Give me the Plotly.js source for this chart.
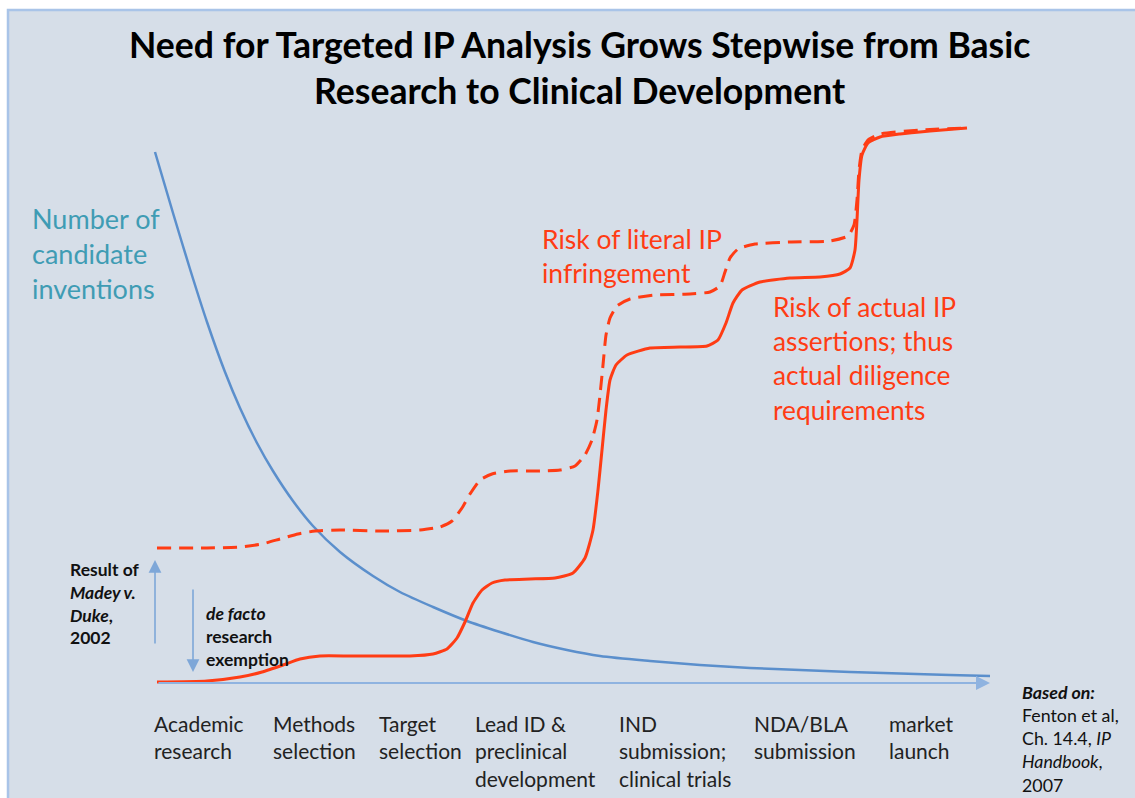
<!DOCTYPE html>
<html>
<head>
<meta charset="utf-8">
<script src="https://cdn.plot.ly/plotly-3.0.1.min.js"></script>
<style>html,body{margin:0;padding:0;background:#fff;}#chart{width:1135px;height:798px;}</style>
</head>
<body>
<div id="chart"></div>
<script>
// Stage positions along the development axis and their labels
const stagePos = [153, 272, 378, 474, 618, 753, 888];
const stageLabels = ["Academic<br>research", "Methods<br>selection", "Target<br>selection",
  "Lead ID &amp;<br>preclinical<br>development", "IND<br>submission;<br>clinical trials",
  "NDA/BLA<br>submission", "market<br>launch"];

// Number of candidate inventions (blue)
const candX = [155,173,190,207,225,240,257,273,293,313,340,373,400,433,467,500,533,567,600,650,700,750,800,850,900,950,990];
const candY = [531,470,414,361,311,275,240,212,182,157,131,107,91,76,62,51,41,33,27,22,18,15,13,11,9.5,8,7];

// Risk of actual IP assertions (solid red)
const actualX = [157,207,240,262,283,300,320,350,380,410,433,447,457,465,473,482,492,505,530,555,573,585,593,598,602,606,610,616,627,650,680,707,718,726,733,742,760,790,820,840,850,855,857,859,862,868,880,900,930,967];
const actualY = [1,2,6,11,18,24,27,27,27,27,29,34,45,61,80,93,100,103,104,105,110,125,153,193,233,273,303,318,328,335,336,337,343,360,380,393,401,405,406,409,415,433,463,503,528,540,546,549,552,555];

// Risk of literal IP infringement (dashed red)
const literalX = [157,207,240,262,280,298,315,340,380,420,440,452,462,470,480,492,510,540,560,575,585,592,597,600,603,606,610,617,630,655,690,710,720,725,730,738,755,790,830,848,854,857,859,862,868,880,920,967];
const literalY = [135,135,136,139,144,149,152,153,152,153,156,162,175,189,203,209,212,212,213,217,228,243,263,288,318,348,365,377,384,388,389,391,397,411,425,434,439,441,442,447,458,483,513,533,543,549,553,555];

const RED = "#ff3c14";
const BLUE = "#5b8fcc";
const AXIS = "#8fb3e0";
const FONT = "Lato, 'Open Sans', sans-serif";

const traces = [
  {x: candX, y: candY, mode: "lines", line: {color: BLUE, width: 2.5, shape: "spline", smoothing: 0.8}, hoverinfo: "skip"},
  {x: literalX, y: literalY, mode: "lines", line: {color: RED, width: 3, dash: "14px,8px", shape: "spline", smoothing: 0.5}, hoverinfo: "skip"},
  {x: actualX, y: actualY, mode: "lines", line: {color: RED, width: 3, shape: "spline", smoothing: 0.5}, hoverinfo: "skip"}
];

const ann = [];
function txt(text, x, y, size, color, opts) {
  ann.push(Object.assign({text: text, x: x, y: y, xref: "x", yref: "y", showarrow: false,
    xanchor: "left", yanchor: "middle", align: "left",
    font: {family: FONT, size: size, color: color}}, opts || {}));
}
// Title
ann.push({text: "<b>Need for Targeted IP Analysis Grows Stepwise from Basic<br>Research to Clinical Development</b>",
  x: 579, y: 683 - 67, xref: "x", yref: "y", showarrow: false, xanchor: "center", yanchor: "middle",
  align: "center", font: {family: FONT, size: 35.6, color: "#000"}});

txt("Number of<br>candidate<br>inventions", 30, 683 - 253, 27, "#3f9cb4");
txt("Risk of literal IP<br>infringement", 540, 683 - 256, 26.5, RED);
txt("Risk of actual IP<br>assertions; thus<br>actual diligence<br>requirements", 771, 683 - 358, 26.3, RED);

txt("<b>Result of<br><i>Madey v.</i><br><i>Duke</i>,<br>2002</b>", 68, 683 - 603, 17.5, "#111");
txt("<b><i>de facto</i><br>research<br>exemption</b>", 204, 683 - 636, 17.5, "#111");

stageLabels.forEach((lab, i) => {
  ann.push({text: lab, x: stagePos[i] - 1, y: 683 - 709, xref: "x", yref: "y", showarrow: false,
    xanchor: "left", yanchor: "top", align: "left",
    font: {family: FONT, size: 21, color: "#222"}});
});

ann.push({text: "<b><i>Based on:</i></b><br>Fenton et al,<br>Ch. 14.4, <i>IP</i><br><i>Handbook</i>,<br>2007",
  x: 1020, y: 683 - 679, xref: "x", yref: "y", showarrow: false, xanchor: "left", yanchor: "top",
  align: "left", font: {family: FONT, size: 17.8, color: "#111"}});

// Arrows
ann.push({x: 990, y: 0, ax: 157, ay: 0, xref: "x", yref: "y", axref: "x", ayref: "y", text: "",
  showarrow: true, arrowhead: 2, arrowsize: 1.4, arrowwidth: 2, arrowcolor: AXIS});
ann.push({x: 155, y: 123, ax: 155, ay: 38, xref: "x", yref: "y", axref: "x", ayref: "y", text: "",
  showarrow: true, arrowhead: 2, arrowsize: 1.6, arrowwidth: 1.6, arrowcolor: "#7ea7d8"});
ann.push({x: 193, y: 11, ax: 193, ay: 95, xref: "x", yref: "y", axref: "x", ayref: "y", text: "",
  showarrow: true, arrowhead: 2, arrowsize: 1.6, arrowwidth: 1.6, arrowcolor: "#7ea7d8"});

const layout = {
  width: 1135, height: 798,
  margin: {l: 0, r: 0, t: 0, b: 0},
  paper_bgcolor: "#ffffff", plot_bgcolor: "rgba(0,0,0,0)",
  showlegend: false,
  xaxis: {range: [0, 1135], visible: false, fixedrange: true},
  yaxis: {range: [-115, 683], visible: false, fixedrange: true},
  shapes: [{type: "rect", xref: "x", yref: "y", x0: 8, x1: 1140, y0: -120, y1: 673,
    fillcolor: "#d6dee8", line: {color: "#a9c4e8", width: 2.5}, layer: "below"}],
  annotations: ann
};

Plotly.newPlot("chart", traces, layout, {displayModeBar: false, staticPlot: true});
</script>
</body>
</html>
